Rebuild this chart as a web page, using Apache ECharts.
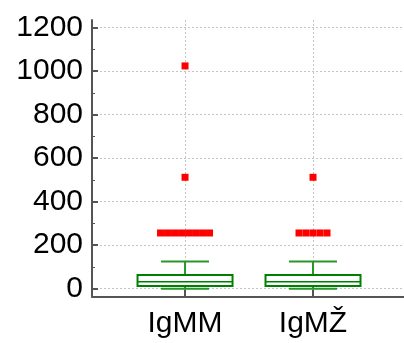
<!DOCTYPE html>
<html>
<head>
<meta charset="utf-8">
<script src="https://cdn.jsdelivr.net/npm/echarts@6/dist/echarts.min.js"></script>
<style>
html,body{margin:0;padding:0;background:#fff;}
#chart{width:404px;height:343px;}
</style>
</head>
<body>
<div id="chart"></div>
<script>
// Data
var categories = ['IgMM', 'IgMŽ'];
// [min, Q1, median, Q3, max]
var boxIgMM = [0, 12, 32, 63, 125];
var boxIgMZ = [0, 12, 32, 63, 125];
var outliersIgMM = [256, 256, 256, 256, 256, 256, 256, 256, 512, 1024];
var outliersIgMZ = [256, 256, 256, 256, 256, 512];
var yTicks = [0, 200, 400, 600, 800, 1000, 1200];
var yMinorTicks = [100, 300, 500, 700, 900, 1100];

var boxes = [boxIgMM, boxIgMZ];
var outliers = [outliersIgMM, outliersIgMZ];

var boxData = boxes.map(function (b, i) { return [i].concat(b); });

// spread duplicate outliers side by side (beeswarm-like)
var SYM = 7;
var scatterData = [];
outliers.forEach(function (list, ci) {
  var counts = {};
  list.forEach(function (v) { counts[v] = (counts[v] || 0) + 1; });
  var seen = {};
  list.forEach(function (v) {
    var n = counts[v];
    var k = seen[v] || 0;
    seen[v] = k + 1;
    scatterData.push({ value: [ci, v], symbolOffset: [(k - (n - 1) / 2) * SYM, 0] });
  });
});

var axisColor = '#555555';
var gridColor = '#c4c4c4';
var font = 'Liberation Sans, Arial, sans-serif';
var BOX_W = 95, CAP_W = 48;

function renderBox(params, api) {
  var x = api.value(0);
  var pMin = api.coord([x, api.value(1)]);
  var pQ1 = api.coord([x, api.value(2)]);
  var pMed = api.coord([x, api.value(3)]);
  var pQ3 = api.coord([x, api.value(4)]);
  var pMax = api.coord([x, api.value(5)]);
  var cx = pMed[0];
  var boxStyle = { stroke: '#008000', lineWidth: 2, fill: '#ffffff' };
  var whiskStyle = { stroke: '#2a962a', lineWidth: 2 };
  return {
    type: 'group',
    children: [
      { type: 'line', shape: { x1: cx, y1: pQ3[1], x2: cx, y2: pMax[1] }, style: whiskStyle },
      { type: 'line', shape: { x1: cx, y1: pQ1[1], x2: cx, y2: pMin[1] }, style: whiskStyle },
      { type: 'line', shape: { x1: cx - CAP_W / 2, y1: pMax[1], x2: cx + CAP_W / 2, y2: pMax[1] }, style: whiskStyle },
      { type: 'line', shape: { x1: cx - CAP_W / 2, y1: pMin[1], x2: cx + CAP_W / 2, y2: pMin[1] }, style: whiskStyle },
      { type: 'rect', shape: { x: cx - BOX_W / 2, y: pQ3[1], width: BOX_W, height: pQ1[1] - pQ3[1] }, style: boxStyle },
      { type: 'line', shape: { x1: cx - BOX_W / 2, y1: pMed[1], x2: cx + BOX_W / 2, y2: pMed[1] }, style: { stroke: '#008000', lineWidth: 1.5 } }
    ]
  };
}

var chart = echarts.init(document.getElementById('chart'), null, { renderer: 'canvas' });
chart.setOption({
  animation: false,
  backgroundColor: '#ffffff',
  grid: { left: 92, right: 0, top: 20, bottom: 46.5, containLabel: false },
  xAxis: {
    type: 'value',
    min: -0.727,
    max: 1.711,
    axisLine: { show: true, onZero: false, lineStyle: { color: axisColor, width: 2 } },
    axisTick: { show: true, inside: true, length: 7, customValues: categories.map(function (c, i) { return i; }), lineStyle: { color: axisColor, width: 2 } },
    axisLabel: {
      show: true,
      customValues: categories.map(function (c, i) { return i; }),
      formatter: function (v) { return categories[Math.round(v)]; },
      color: '#000', fontSize: 30, fontFamily: font, margin: 12
    },
    splitLine: { show: true, lineStyle: { color: gridColor, type: [2, 2], width: 1 } }
  },
  yAxis: [{
    type: 'value',
    min: -36,
    max: 1235,
    axisLine: { show: true, onZero: false, lineStyle: { color: axisColor, width: 2 } },
    axisTick: { show: true, inside: true, length: 6, customValues: yTicks, lineStyle: { color: axisColor, width: 2 } },
    axisLabel: { show: true, customValues: yTicks, formatter: function (v) { return String(v); }, color: '#000', fontSize: 30, fontFamily: font, margin: 9 },
    splitLine: { show: true, lineStyle: { color: gridColor, type: [2, 2], width: 1 } }
  }, {
    type: 'value',
    position: 'left',
    min: -36,
    max: 1235,
    axisLine: { show: false, onZero: false },
    axisTick: { show: true, inside: true, length: 3, customValues: yMinorTicks, lineStyle: { color: axisColor, width: 1 } },
    axisLabel: { show: false },
    splitLine: { show: false }
  }],
  series: [{
    type: 'custom',
    data: boxData,
    renderItem: renderBox,
    encode: { x: 0, y: [1, 2, 3, 4, 5] },
    z: 3
  }, {
    type: 'scatter',
    data: scatterData,
    symbol: 'rect',
    symbolSize: SYM,
    itemStyle: { color: '#ff0000', opacity: 1 },
    z: 4
  }]
});
</script>
</body>
</html>
